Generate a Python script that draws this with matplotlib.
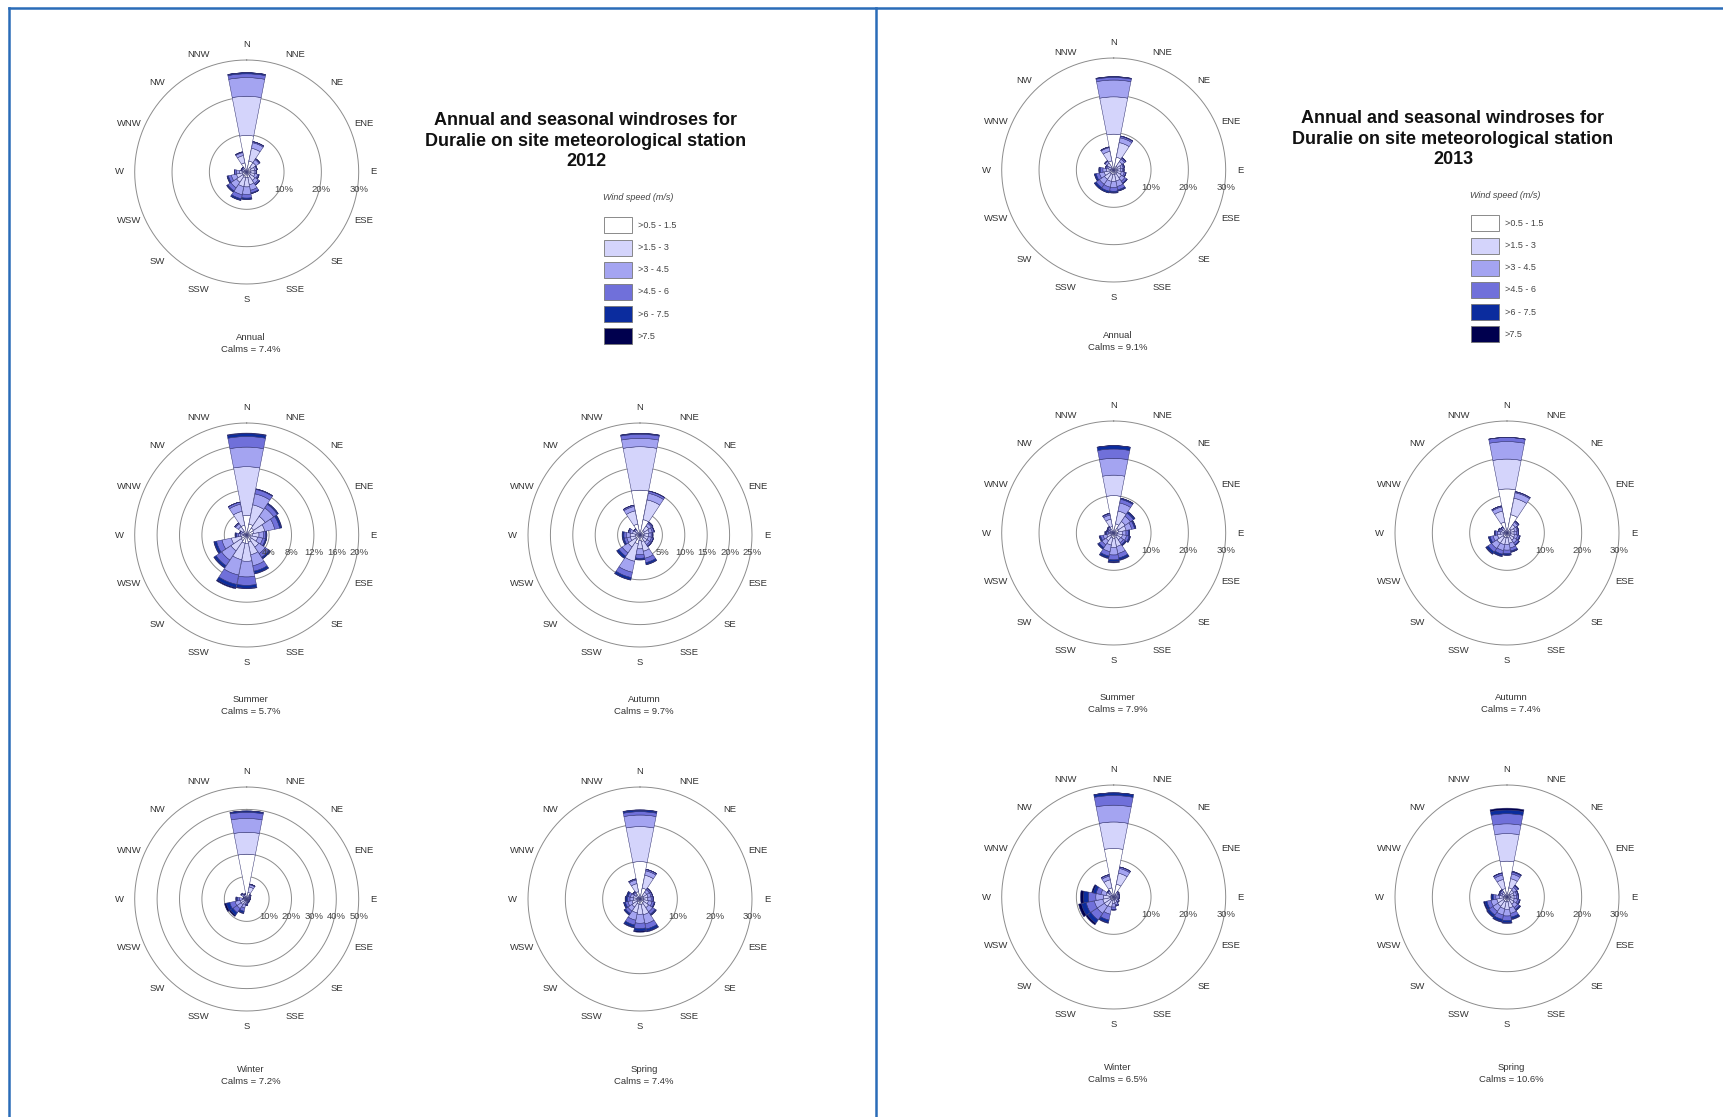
import numpy as np
import matplotlib.pyplot as plt
from matplotlib.patches import Rectangle

plt.rcParams['font.family'] = ['Liberation Sans', 'DejaVu Sans']

W, H = 1724, 1117

dirs = ['N', 'NNE', 'NE', 'ENE', 'E', 'ESE', 'SE', 'SSE',
        'S', 'SSW', 'SW', 'WSW', 'W', 'WNW', 'NW', 'NNW']
speed_labels = ['>0.5 - 1.5', '>1.5 - 3', '>3 - 4.5', '>4.5 - 6', '>6 - 7.5', '>7.5']
speed_colors = ['#ffffff', '#d4d4fb', '#a4a4f1', '#7070da', '#0b2c9e', '#00004e']

# % of hours per direction (rows N..NNW) and speed class (columns)
annual_2012 = [
    [9.8, 10.5, 5.0, 1.0, 0.3, 0.0],
    [3.0, 3.5, 1.5, 0.3, 0.0, 0.0],
    [1.5, 1.5, 1.0, 0.3, 0.0, 0.0],
    [1.2, 1.0, 0.5, 0.2, 0.0, 0.0],
    [1.0, 1.0, 0.5, 0.2, 0.0, 0.0],
    [1.0, 1.2, 0.8, 0.3, 0.1, 0.0],
    [1.2, 1.5, 1.0, 0.4, 0.1, 0.0],
    [1.5, 2.0, 1.5, 0.7, 0.2, 0.0],
    [1.5, 2.5, 2.0, 1.0, 0.3, 0.1],
    [1.5, 2.5, 2.2, 1.1, 0.4, 0.1],
    [1.3, 2.0, 1.8, 1.0, 0.3, 0.1],
    [1.2, 1.6, 1.4, 0.8, 0.3, 0.1],
    [1.0, 1.0, 0.8, 0.4, 0.1, 0.0],
    [0.7, 0.5, 0.3, 0.1, 0.0, 0.0],
    [0.7, 0.5, 0.3, 0.1, 0.0, 0.0],
    [2.5, 2.0, 0.8, 0.2, 0.0, 0.0],
]
summer_2012 = [
    [3.5, 8.7, 3.5, 1.9, 0.5, 0.1],
    [2.0, 3.5, 2.0, 0.8, 0.1, 0.0],
    [1.5, 2.5, 1.8, 0.8, 0.2, 0.0],
    [1.3, 2.0, 1.8, 0.9, 0.3, 0.1],
    [1.0, 1.2, 0.8, 0.4, 0.2, 0.0],
    [0.8, 1.2, 0.9, 0.5, 0.2, 0.0],
    [1.0, 1.6, 1.4, 0.8, 0.3, 0.0],
    [1.3, 2.3, 2.0, 1.0, 0.4, 0.1],
    [1.5, 3.2, 2.8, 1.5, 0.5, 0.1],
    [1.5, 3.0, 2.8, 1.7, 0.6, 0.2],
    [1.2, 2.2, 2.0, 1.2, 0.4, 0.1],
    [1.0, 1.8, 1.7, 1.0, 0.4, 0.1],
    [0.6, 0.5, 0.4, 0.3, 0.2, 0.1],
    [0.5, 0.4, 0.3, 0.1, 0.0, 0.0],
    [0.8, 1.0, 0.6, 0.2, 0.0, 0.0],
    [1.8, 2.5, 1.3, 0.4, 0.0, 0.0],
]
autumn_2012 = [
    [10.0, 9.7, 1.9, 0.9, 0.2, 0.0],
    [3.5, 4.5, 1.5, 0.5, 0.0, 0.0],
    [1.2, 1.2, 0.7, 0.3, 0.1, 0.0],
    [1.0, 1.1, 0.7, 0.4, 0.1, 0.0],
    [0.9, 1.0, 0.6, 0.3, 0.1, 0.0],
    [0.9, 1.0, 0.7, 0.4, 0.1, 0.0],
    [0.9, 1.0, 0.7, 0.4, 0.1, 0.0],
    [1.5, 2.2, 1.6, 1.0, 0.4, 0.1],
    [1.3, 1.8, 1.3, 0.8, 0.3, 0.1],
    [2.0, 4.0, 2.5, 1.2, 0.5, 0.1],
    [1.2, 2.0, 1.6, 0.9, 0.5, 0.1],
    [1.0, 1.2, 0.8, 0.6, 0.3, 0.1],
    [1.0, 1.2, 0.8, 0.6, 0.3, 0.1],
    [0.8, 0.9, 0.6, 0.3, 0.1, 0.0],
    [0.7, 0.6, 0.3, 0.1, 0.0, 0.0],
    [2.5, 3.0, 1.0, 0.3, 0.0, 0.0],
]
winter_2012 = [
    [20.0, 9.8, 6.2, 2.7, 0.6, 0.0],
    [3.0, 2.5, 1.0, 0.3, 0.0, 0.0],
    [1.0, 0.8, 0.4, 0.2, 0.0, 0.0],
    [0.8, 0.6, 0.3, 0.1, 0.0, 0.0],
    [0.8, 0.6, 0.3, 0.1, 0.0, 0.0],
    [0.6, 0.5, 0.3, 0.1, 0.0, 0.0],
    [0.6, 0.5, 0.3, 0.1, 0.0, 0.0],
    [0.6, 0.6, 0.4, 0.2, 0.1, 0.0],
    [0.8, 0.8, 0.6, 0.4, 0.2, 0.0],
    [1.0, 1.5, 1.6, 1.5, 0.8, 0.3],
    [1.0, 2.0, 2.2, 2.2, 1.4, 0.6],
    [1.0, 2.0, 2.3, 2.4, 1.6, 0.8],
    [0.8, 1.2, 1.2, 1.0, 0.5, 0.2],
    [0.6, 0.5, 0.3, 0.2, 0.0, 0.0],
    [1.0, 1.0, 0.8, 0.3, 0.1, 0.0],
    [1.2, 0.8, 0.3, 0.1, 0.0, 0.0],
]
spring_2012 = [
    [10.0, 9.4, 3.1, 0.9, 0.4, 0.1],
    [3.0, 3.5, 1.2, 0.4, 0.0, 0.0],
    [1.0, 1.2, 0.8, 0.4, 0.1, 0.0],
    [1.0, 1.2, 0.8, 0.4, 0.1, 0.0],
    [1.0, 1.1, 0.9, 0.5, 0.1, 0.0],
    [1.0, 1.3, 1.0, 0.6, 0.2, 0.0],
    [1.2, 1.6, 1.3, 0.8, 0.3, 0.1],
    [1.5, 2.8, 2.5, 1.4, 0.6, 0.2],
    [1.5, 2.6, 2.4, 1.4, 0.7, 0.3],
    [1.4, 2.4, 2.0, 1.3, 0.6, 0.2],
    [1.0, 1.6, 1.3, 0.8, 0.4, 0.1],
    [0.9, 1.3, 1.1, 0.7, 0.4, 0.1],
    [0.8, 1.0, 0.9, 0.7, 0.4, 0.2],
    [0.8, 1.0, 0.8, 0.6, 0.4, 0.1],
    [0.6, 0.8, 0.6, 0.3, 0.1, 0.0],
    [2.0, 2.2, 1.0, 0.3, 0.0, 0.0],
]
annual_2013 = [
    [9.6, 10.0, 4.5, 0.7, 0.2, 0.0],
    [3.5, 4.0, 1.3, 0.4, 0.1, 0.0],
    [1.2, 1.5, 0.8, 0.4, 0.1, 0.0],
    [1.0, 1.0, 0.6, 0.3, 0.1, 0.0],
    [0.9, 0.9, 0.6, 0.3, 0.1, 0.0],
    [1.0, 1.1, 0.8, 0.4, 0.1, 0.0],
    [1.1, 1.4, 1.1, 0.6, 0.2, 0.0],
    [1.2, 1.8, 1.5, 0.9, 0.3, 0.1],
    [1.2, 1.9, 1.6, 1.0, 0.4, 0.1],
    [1.2, 1.9, 1.6, 1.1, 0.4, 0.1],
    [1.2, 1.8, 1.6, 1.1, 0.5, 0.1],
    [1.1, 1.5, 1.3, 0.9, 0.4, 0.1],
    [0.9, 1.1, 0.9, 0.7, 0.3, 0.1],
    [0.7, 0.7, 0.5, 0.3, 0.1, 0.0],
    [1.0, 1.2, 0.6, 0.2, 0.0, 0.0],
    [2.5, 2.6, 1.0, 0.2, 0.0, 0.0],
]
summer_2013 = [
    [10.0, 5.5, 4.5, 2.5, 0.9, 0.0],
    [2.5, 3.5, 2.2, 1.0, 0.3, 0.0],
    [1.5, 2.2, 1.7, 1.0, 0.4, 0.1],
    [1.4, 2.0, 1.5, 0.8, 0.3, 0.1],
    [1.0, 1.3, 1.0, 0.6, 0.3, 0.1],
    [1.0, 1.4, 1.1, 0.7, 0.3, 0.1],
    [1.0, 1.2, 0.9, 0.6, 0.3, 0.1],
    [1.4, 2.3, 1.9, 1.2, 0.5, 0.2],
    [1.5, 2.4, 2.0, 1.3, 0.5, 0.3],
    [1.3, 2.0, 1.8, 1.2, 0.5, 0.2],
    [1.0, 1.5, 1.3, 0.9, 0.4, 0.1],
    [0.8, 1.1, 1.0, 0.7, 0.3, 0.1],
    [0.5, 0.5, 0.5, 0.4, 0.3, 0.2],
    [0.5, 0.5, 0.4, 0.3, 0.2, 0.1],
    [0.6, 0.7, 0.5, 0.2, 0.1, 0.0],
    [1.8, 2.0, 1.1, 0.4, 0.1, 0.0],
]
autumn_2013 = [
    [11.8, 8.0, 4.7, 1.1, 0.0, 0.0],
    [5.0, 4.5, 1.5, 0.3, 0.0, 0.0],
    [1.3, 1.4, 0.8, 0.3, 0.1, 0.0],
    [1.0, 1.1, 0.7, 0.3, 0.1, 0.0],
    [0.9, 1.0, 0.7, 0.4, 0.1, 0.0],
    [1.0, 1.1, 0.8, 0.5, 0.2, 0.0],
    [1.0, 1.3, 0.9, 0.6, 0.2, 0.0],
    [1.2, 1.6, 1.3, 0.8, 0.3, 0.1],
    [1.3, 1.8, 1.5, 0.9, 0.4, 0.1],
    [1.3, 1.9, 1.6, 1.0, 0.5, 0.2],
    [1.3, 2.0, 1.7, 1.1, 0.6, 0.2],
    [1.1, 1.5, 1.2, 0.8, 0.4, 0.1],
    [0.8, 1.0, 0.8, 0.5, 0.2, 0.0],
    [0.7, 0.8, 0.5, 0.3, 0.1, 0.0],
    [0.8, 0.7, 0.4, 0.1, 0.0, 0.0],
    [3.0, 3.0, 1.1, 0.3, 0.0, 0.0],
]
winter_2013 = [
    [13.0, 7.1, 4.5, 2.6, 0.7, 0.0],
    [3.5, 3.0, 1.3, 0.4, 0.0, 0.0],
    [0.8, 0.6, 0.3, 0.1, 0.0, 0.0],
    [0.7, 0.5, 0.3, 0.1, 0.0, 0.0],
    [0.7, 0.5, 0.3, 0.1, 0.0, 0.0],
    [0.6, 0.5, 0.3, 0.1, 0.0, 0.0],
    [0.6, 0.6, 0.4, 0.2, 0.0, 0.0],
    [0.7, 0.8, 0.6, 0.3, 0.1, 0.0],
    [0.8, 1.0, 0.9, 0.6, 0.2, 0.0],
    [1.0, 1.8, 1.9, 1.6, 0.7, 0.2],
    [1.0, 2.0, 2.3, 2.1, 1.1, 0.5],
    [1.0, 2.0, 2.3, 2.2, 1.3, 0.8],
    [1.0, 1.8, 2.0, 2.0, 1.3, 0.8],
    [0.8, 1.3, 1.4, 1.3, 0.8, 0.4],
    [0.7, 0.7, 0.5, 0.2, 0.1, 0.0],
    [2.5, 2.2, 1.0, 0.4, 0.0, 0.0],
]
spring_2013 = [
    [9.6, 7.4, 2.6, 2.7, 1.0, 0.5],
    [2.5, 2.5, 1.3, 0.5, 0.2, 0.0],
    [1.0, 1.2, 0.9, 0.5, 0.2, 0.0],
    [0.9, 1.0, 0.7, 0.4, 0.1, 0.0],
    [0.9, 1.0, 0.7, 0.4, 0.1, 0.0],
    [0.9, 1.1, 0.9, 0.5, 0.2, 0.0],
    [1.0, 1.3, 1.1, 0.6, 0.3, 0.1],
    [1.2, 1.8, 1.5, 1.0, 0.5, 0.2],
    [1.3, 2.0, 1.8, 1.2, 0.6, 0.2],
    [1.3, 1.9, 1.7, 1.2, 0.6, 0.2],
    [1.2, 1.8, 1.6, 1.2, 0.6, 0.2],
    [1.1, 1.7, 1.6, 1.1, 0.6, 0.3],
    [0.9, 1.1, 1.0, 0.7, 0.4, 0.2],
    [0.7, 0.7, 0.5, 0.3, 0.1, 0.0],
    [0.8, 0.8, 0.5, 0.2, 0.1, 0.0],
    [2.3, 2.5, 1.2, 0.5, 0.1, 0.0],
]

seasons = ['Annual', 'Summer', 'Autumn', 'Winter', 'Spring']
calms_2012 = [7.4, 5.7, 9.7, 7.2, 7.4]
calms_2013 = [9.1, 7.9, 7.4, 6.5, 10.6]
rings_2012 = [[10, 20, 30], [4, 8, 12, 16, 20], [5, 10, 15, 20, 25],
              [10, 20, 30, 40, 50], [10, 20, 30]]
rings_2013 = [[10, 20, 30]] * 5
years = [2012, 2013]

fig = plt.figure(figsize=(W / 100, H / 100), dpi=100)
fig.patch.set_facecolor('white')

# pixel-space overlay for the frames, titles and legend
bg = fig.add_axes([0, 0, 1, 1], zorder=0)
bg.set_xlim(0, W)
bg.set_ylim(H, 0)
bg.axis('off')

R = 112  # px radius of the outer ring
theta = np.arange(16) * 2 * np.pi / 16
txt = '#333333'


def paint_rose(cx, cy, data, rings):
    ax = fig.add_axes([(cx - R) / W, 1 - (cy + R) / H, 2 * R / W, 2 * R / H],
                      projection='polar', zorder=2)
    ax.set_theta_zero_location('N')
    ax.set_theta_direction(-1)
    rmax = rings[-1]
    ax.set_ylim(0, rmax)
    ax.set_axis_off()

    t = np.linspace(0, 2 * np.pi, 361)
    for r in rings:
        ax.plot(t, np.full_like(t, r), color='#8c8c8c', lw=0.7, clip_on=False, zorder=1)
        ax.annotate(f'{r}%', xy=(np.pi / 2, r), xytext=(0, -12.5),
                    textcoords='offset points', ha='center', va='center',
                    fontsize=6.8, color='#444444', zorder=5, annotation_clip=False)

    vals = np.array(data)
    bottom = np.zeros(16)
    for k in range(6):
        ax.bar(theta, vals[:, k], width=2 * np.pi / 16 * 0.98, bottom=bottom,
               color=speed_colors[k], edgecolor='#303070', linewidth=0.35,
               zorder=3, clip_on=False)
        bottom += vals[:, k]

    for i, d in enumerate(dirs):
        ax.text(theta[i], rmax * 1.135, d, ha='center', va='center',
                fontsize=6.8, color=txt, clip_on=False)
    return ax


def paint_panel(dx, dy, year, roses, rings, calms):
    # panel frame
    bg.plot([9 + dx, 9 + dx], [8, H], color='#2a6cb8', lw=1.8)
    bg.plot([9 + dx, 874 + dx], [8, 8], color='#2a6cb8', lw=1.8)

    centres = [(246.7, 172), (246.7, 535), (640, 535), (246.7, 899), (640, 899)]
    label_y = [338, 700, 700, 1069, 1069]
    for i in range(5):
        cx, cy = centres[i]
        paint_rose(cx + dx, cy + dy, roses[i], rings[i])
        bg.text(cx + dx + 4, label_y[i] + dy, seasons[i], ha='center', va='center',
                fontsize=6.8, color=txt)
        bg.text(cx + dx + 4, label_y[i] + 12 + dy, f'Calms = {calms[i]}%',
                ha='center', va='center', fontsize=6.8, color=txt)

    bg.text(586 + dx, 141 + dy,
            f'Annual and seasonal windroses for\nDuralie on site meteorological station\n{year}',
            ha='center', va='center', fontsize=13, fontweight='bold',
            color='#111111', linespacing=1.3)

    bg.text(638 + dx, 197 + dy, 'Wind speed (m/s)', ha='center', va='center',
            fontsize=6.5, style='italic', color='#444444')
    for k in range(6):
        yc = 225.3 + 22.2 * k + dy
        bg.add_patch(Rectangle((604 + dx, yc - 8), 28, 16, facecolor=speed_colors[k],
                               edgecolor='#777777', lw=0.6))
        bg.text(638 + dx, yc, speed_labels[k], ha='left', va='center',
                fontsize=6.5, color='#444444')


paint_panel(0, 0, years[0],
            [annual_2012, summer_2012, autumn_2012, winter_2012, spring_2012],
            rings_2012, calms_2012)
paint_panel(867, -2, years[1],
            [annual_2013, summer_2013, autumn_2013, winter_2013, spring_2013],
            rings_2013, calms_2013)

fig.savefig('out.png', dpi=100, facecolor='white')
